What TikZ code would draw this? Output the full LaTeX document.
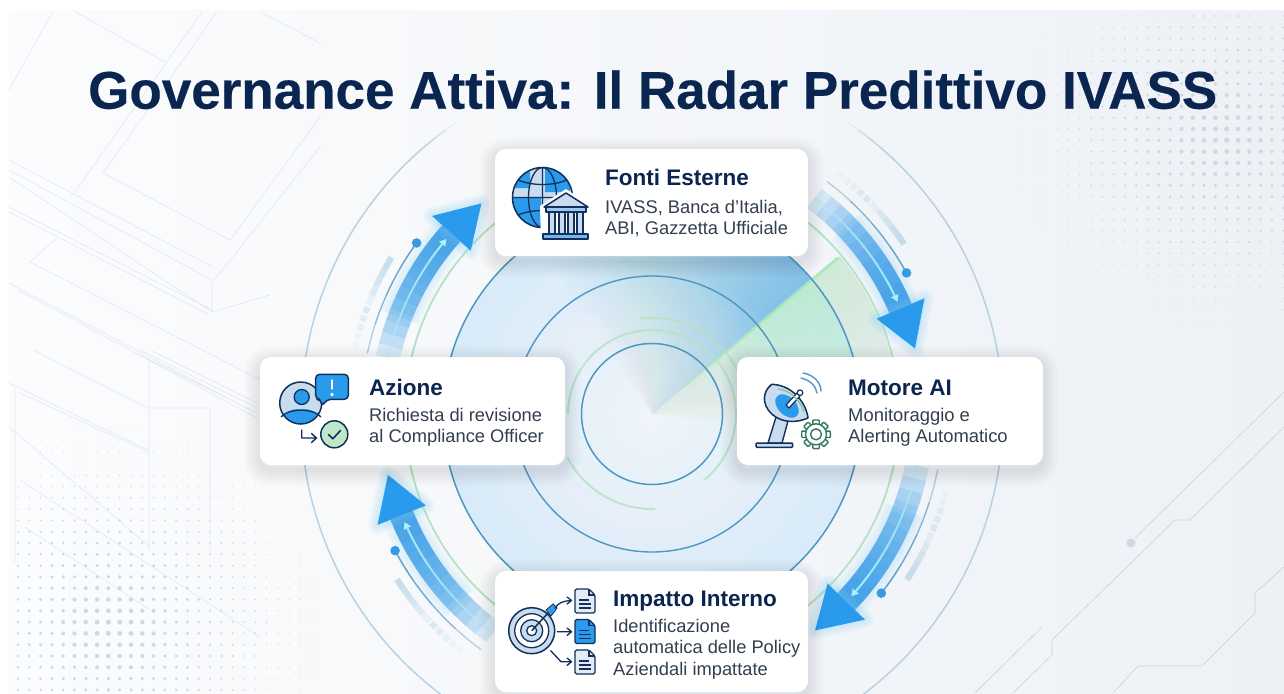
\documentclass[tikz,border=0pt]{standalone}
\usepackage{fontspec}
\setmainfont{Liberation Sans}
\newfontfamily\titlefont[FakeBold=0.35]{Liberation Sans Bold}
\definecolor{bgL}{HTML}{FBFCFD}
\definecolor{bgR}{HTML}{EDF1F6}
\definecolor{linec}{HTML}{E3E7EC}
\definecolor{dotc}{HTML}{D2D8DF}
\definecolor{navy}{HTML}{0A2550}
\definecolor{ink}{HTML}{12305A}
\definecolor{bodyc}{HTML}{333F4E}
\definecolor{bluec}{HTML}{2A9BEC}
\definecolor{palec}{HTML}{C9DCEF}
\definecolor{glowc}{HTML}{7FD0F8}
\definecolor{bandc}{HTML}{2F98E8}
\definecolor{cyanc}{HTML}{A8F2FA}
\definecolor{thinc}{HTML}{5C9CC8}
\definecolor{dashc}{HTML}{B4D2E7}
\definecolor{ringc}{HTML}{4E97C4}
\definecolor{outerc}{HTML}{B7D2E5}
\definecolor{greenr}{HTML}{B5E2C2}
\definecolor{greenw}{HTML}{AAEAB8}
\definecolor{wedgeb}{HTML}{2E9BE8}
\definecolor{gearc}{HTML}{2E7A62}
\definecolor{checkc}{HTML}{BFE8CB}
\pgfdeclareradialshading{discshade}{\pgfpointorigin}{%
  color(0bp)=(rgb,255:red,240;green,245;blue,249);
  color(15bp)=(rgb,255:red,224;green,238;blue,249);
  color(33bp)=(rgb,255:red,210;green,232;blue,248);
  color(50bp)=(rgb,255:red,184;green,220;blue,245)}
\tikzset{
  bgline/.style={draw=linec,line width=.6pt},
  cardbox/.style={draw=none,fill=white,rounded corners=11pt,inner sep=0pt},
  headtext/.style={anchor=base west,inner sep=0pt,text=navy,font=\bfseries\fontsize{22.5}{26}\selectfont},
  bodytext/.style={anchor=north west,inner sep=0pt,text=bodyc,align=left},
  icon/.style={draw=ink,line width=1.5pt,line join=round},
}
\newcommand\mkcard[5]{%
  \foreach \w in {4,8,...,32}{\draw[black,opacity=.012,line width=\w pt,rounded corners=11pt,line join=round] (#2,#3+5) rectangle (#4,#5+5);}
  \pgfmathsetmacro\cw{#4-#2}\pgfmathsetmacro\ch{#5-#3}
  \node[cardbox,minimum width=\cw pt,minimum height=\ch pt] (#1) at ({(#2+#4)/2},{(#3+#5)/2}) {};
}
\newcommand\flowarrow[3]{%
  \pgfmathsetmacro\midA{#2+(#1-#2)*0.7}
  \foreach \w in {26,30,34,38,42}{\draw[glowc,opacity=.05,line width=\w pt] (\midA:270) arc[start angle=\midA,end angle=#2,radius=270];}
  \foreach \k in {0,...,11}{\pgfmathsetmacro\sta{#2+(#1-#2)*(1-\k/12)}
    \draw[bandc,opacity=.14,line width=24pt] (\sta:270) arc[start angle=\sta,end angle=#2,radius=270];}
  \foreach \w in {3,6,...,18}{\draw[glowc,opacity=.06,line width=\w pt,line join=round] (#2:296) -- (#3:271) -- (#2:244) -- cycle;}
  \fill[bluec] (#2:296) -- (#3:271) -- (#2:244) -- cycle;
  % cyan line
  \pgfmathsetmacro\cyE{#2+3}
  \foreach \k in {0,...,5}{\pgfmathsetmacro\sta{\cyE+(#1-\cyE)*(1-\k/6)}
    \draw[cyanc,opacity=.35,line width=1.8pt] (\sta:270) arc[start angle=\sta,end angle=\cyE,radius=270];}
  \pgfmathsetmacro\cyT{#2+1.6}
  \fill[cyanc] (\cyE:274) -- (\cyT:270) -- (\cyE:266) -- cycle;
  % thin line + dot
  \pgfmathsetmacro\doA{#2+6}
  \foreach \k in {0,...,3}{\pgfmathsetmacro\sta{\doA+(#1-\doA)*(1-\k/4)}
    \draw[thinc,opacity=.45,line width=1.3pt] (\sta:291) arc[start angle=\sta,end angle=\doA,radius=291];}
  \fill[bluec!80!thinc] (\doA:291) circle[radius=4.8];
  % dashed pale band
  \pgfmathsetmacro\daE{#2+11}\pgfmathsetmacro\daM{#2+21}
  \foreach \k in {0,...,4}{\pgfmathsetmacro\sta{\daE+(\daM-\daE)*(1-\k/5)}
    \draw[dashc,opacity=.2,line width=6pt] (\sta:304) arc[start angle=\sta,end angle=\daE,radius=304];}
  \foreach \k/\o in {0/.4,1/.3,2/.22,3/.15,4/.09}{\pgfmathsetmacro\sta{\daM+.4+\k*1.7}\pgfmathsetmacro\stb{\sta+1.2}
    \draw[dashc,opacity=\o,line width=6pt] (\sta:304) arc[start angle=\sta,end angle=\stb,radius=304];}
}
\newcommand\docicon[3]{%
  \draw[icon,fill=#3,line width=1.3pt,rounded corners=1.5pt] (#1,#2) -- (#1+14,#2) -- (#1+20,#2+6) -- (#1+20,#2+24) -- (#1,#2+24) -- cycle;
  \draw[ink,line width=1.1pt] (#1+14,#2) -- (#1+14,#2+6) -- (#1+20,#2+6);
  \draw[ink,line width=1.1pt] (#1+4,#2+11) -- (#1+14,#2+11) (#1+4,#2+15) -- (#1+16,#2+15) (#1+4,#2+19) -- (#1+16,#2+19);
}
\begin{document}
\begin{tikzpicture}[x=1pt,y=-1pt]
\useasboundingbox (0,0) rectangle (1284,693);
\fill[white] (0,0) rectangle (1284,693);
\fill[left color=bgL,right color=bgR] (9,11) rectangle (1284,693);
% background lines, left
\draw[bgline] (53,11) -- (9,90) (74,11) -- (165,62) (202,12) -- (75,192) (217,12) -- (103,173) -- (230,240) -- (320,117)
  (320,147) -- (212,283) -- (212,312) (9,160) -- (213,267) (9,170) -- (212,280) (9,177) -- (212,312) (9,207) -- (212,310)
  (9,212) -- (210,315) (260,12) -- (320,43) (57,238) -- (30,262) -- (300,400) (212,312) -- (270,295)
  (149,360) -- (149,550) (150,408) -- (210,408) -- (210,550) (9,383) -- (148,450) (18,392) -- (148,452) (15,388) -- (15,563)
  (9,427) -- (150,547) (20,480) -- (260,637) (25,527) -- (150,610) (33,350) -- (148,408) (130,350) -- (257,413) (140,350) -- (257,408)
  (150,350) -- (257,403) (9,283) -- (250,410) (18,290) -- (257,418);
% background lines, right
\draw[bgline,draw=linec!90!black] (1284,392) -- (1135,538) (1284,427) -- (1190,520) -- (1175,520) -- (1052,640) -- (1052,655) -- (1013,693)
  (1042,627) -- (975,693) (1284,567) -- (1255,593) -- (1255,613) -- (1202,666) -- (1138,666) -- (1113,693);
\fill[dotc] (1131,543) circle[radius=4.5];
% dot fields
\foreach \ix in {0,...,24}{\foreach \iy in {0,...,28}{
  \pgfmathsetmacro\px{1012+11.3*\ix}\pgfmathsetmacro\py{16+11.3*\iy}
  \pgfmathsetmacro\dd{sqrt(((\px-1223)/215)^2+((\py-135)/195)^2)}
  \pgfmathtruncatemacro\keep{\dd<0.98?1:0}
  \ifnum\keep=1 \pgfmathsetmacro\rr{0.45+2.2*(1-\dd)^1.4}\fill[dotc] (\px,\py) circle[radius=\rr];\fi
}}
\foreach \ix in {0,...,26}{\foreach \iy in {0,...,23}{
  \pgfmathsetmacro\px{18+11.3*\ix}\pgfmathsetmacro\py{430+11.3*\iy}
  \pgfmathsetmacro\dd{sqrt(((\px-110)/215)^2+((\py-627)/205)^2)}
  \pgfmathtruncatemacro\keep{\dd<0.98?1:0}
  \ifnum\keep=1 \pgfmathsetmacro\rr{0.45+2.2*(1-\dd)^1.4}\fill[dotc] (\px,\py) circle[radius=\rr];\fi
}}
% radar
\begin{scope}[shift={(652,414)},y=1pt]
  \draw[outerc,line width=1.5pt] (50:351) arc[start angle=50,end angle=-230,radius=351];
  \foreach \e/\o in {52/.6,54/.4,56/.25}{\draw[outerc,opacity=\o,line width=1.5pt] (\e:351) arc[start angle=\e,end angle=50,radius=351];}
  \foreach \e/\o in {128/.6,126/.4,124/.25}{\draw[outerc,opacity=\o,line width=1.5pt] (\e:351) arc[start angle=\e,end angle=130,radius=351];}
  % green wedge
  \foreach \a in {38,35,...,-7}{\fill[greenw,opacity=.03] (0,0) -- (40:245) arc[start angle=40,end angle=\a,radius=245] -- cycle;}
  \begin{scope}
    \clip (0,0) circle[radius=209];
    \shade[shading=discshade] (0,0) circle[radius=209];
    \foreach \a in {42,44,...,125}{\fill[wedgeb,opacity=.0135] (0,0) -- (40:215) arc[start angle=40,end angle=\a,radius=215] -- cycle;}
    \foreach \a in {38,35,...,-7}{\fill[greenw,opacity=.04] (0,0) -- (40:215) arc[start angle=40,end angle=\a,radius=215] -- cycle;}
    \foreach \r in {8,16,...,150}{\fill[bgR!40!white,opacity=.055] (0,0) circle[radius=\r];}
  \end{scope}
  \foreach \k in {40,80,120,160,200}{\draw[greenw,opacity=.4,line width=2.6pt] (40:\k) -- (40:243);}
  \draw[greenr,line width=1.8pt] (0,0) circle[radius=247];
  \draw[ringc,line width=1.5pt] (0,0) circle[radius=209];
  \draw[ringc,line width=1.4pt] (0,0) circle[radius=138];
  \draw[ringc,line width=1.5pt] (0,0) circle[radius=70.5];
  \draw[greenr,opacity=.8,line width=2pt] (97:96) arc[start angle=97,end angle=25,radius=96];
  \draw[greenr,opacity=.8,line width=2pt] (180:84) arc[start angle=180,end angle=-52,radius=84];
  \draw[greenr,opacity=.8,line width=2pt] (207:95) arc[start angle=207,end angle=272,radius=95];
  \flowarrow{53}{23}{14}
  \flowarrow{-11}{-44}{-53}
  \flowarrow{234}{202}{193}
  \flowarrow{168}{138}{129}
\end{scope}
% cards
\mkcard{fonti}{495}{149}{808}{256}
\mkcard{azione}{260}{357}{565}{465}
\mkcard{motore}{737}{357}{1043}{465}
\mkcard{impatto}{495}{571}{808}{692}
% title
\node[anchor=base west,inner sep=0pt,text=navy,font=\titlefont\fontsize{53}{60}\selectfont] (title) at (88,108.7) {Governance Attiva: Il Radar Predittivo IVASS};
% texts
\node[headtext] (h1) at (605,185) {Fonti Esterne};
\node[bodytext,font=\fontsize{18.3}{20.5}\selectfont] (b1) at (605,200.5) {IVASS, Banca d'Italia,\\ABI, Gazzetta Ufficiale};
\node[headtext] (h2) at (369,395) {Azione};
\node[bodytext,font=\fontsize{18.3}{21}\selectfont] (b2) at (369,408) {Richiesta di revisione\\al Compliance Officer};
\node[headtext] (h3) at (848,395) {Motore AI};
\node[bodytext,font=\fontsize{18.4}{21.5}\selectfont] (b3) at (848,407.5) {Monitoraggio e\\Alerting Automatico};
\node[headtext] (h4) at (613,606) {Impatto Interno};
\node[bodytext,font=\fontsize{18.3}{21.5}\selectfont] (b4) at (613,619) {Identificazione\\automatica delle Policy\\Aziendali impattate};
% icon: globe + bank
\begin{scope}
  \clip (542.5,197.5) circle[radius=30.5];
  \fill[palec] (512,167) rectangle (573,228);
  \fill[bluec] (512,172) rectangle (530,188) (545,168) rectangle (570,192) (512,198) rectangle (541,228);
\end{scope}
\draw[icon] (542.5,197.5) circle[radius=30];
\draw[icon,line width=1.3pt] (542.5,197.5) ellipse[x radius=14,y radius=30] (542.5,167.5) -- (542.5,227.5) (512.5,197.5) -- (572.5,197.5);
\draw[icon,line width=1.3pt] (518,180) .. controls (532,186) and (553,186) .. (567,180) (518,215) .. controls (532,209) and (553,209) .. (567,215);
\fill[white] (566,189) -- (592,206) -- (590,241) -- (541,241) -- (540,206) -- cycle;
\draw[icon,fill=palec] (566,193) -- (588,207) -- (544,207) -- cycle;
\draw[icon,fill=palec!70!bluec] (546,207) rectangle (586,212);
\draw[icon,fill=palec,line width=1.2pt] (549,212) rectangle (555,234) (559,212) rectangle (565,234) (568,212) rectangle (574,234) (577,212) rectangle (583,234);
\draw[icon,fill=bluec!55!palec] (543,234) rectangle (588,239);
% icon: person
\begin{scope}
  \clip (300.7,403) circle[radius=21];
  \fill[palec] (279,381) rectangle (323,425);
  \fill[bluec] (282,426) .. controls (282,410) and (292,409) .. (301,409) .. controls (310,409) and (320,410) .. (320,426) -- cycle;
\end{scope}
\draw[icon] (300.7,403) circle[radius=21];
\draw[icon,fill=bluec,line width=1.3pt] (301.7,397) circle[radius=7.5];
\draw[icon,line width=1.3pt] (281,417) .. controls (288,408) and (314,408) .. (321,417);
\draw[icon,fill=bluec,rounded corners=4pt] (315.7,374.3) -- (348.3,374.3) -- (348.3,399.3) -- (327,399.3) -- (321.7,406.7) -- (321,399.3) -- (315.7,399.3) -- cycle;
\draw[white,line width=2.8pt,line cap=round] (332,380.5) -- (332,388.5);
\fill[white] (332,394.5) circle[radius=1.8];
\draw[ink,line width=1.4pt,line join=round,line cap=round] (301.7,430) -- (301.7,438) -- (316,438) (311.5,433.5) -- (316.5,438) -- (311.5,442.5);
\draw[draw=ink,fill=checkc,line width=1.5pt] (334.3,434.3) circle[radius=13.5];
\draw[ink,line width=1.6pt,line join=round,line cap=round] (328.5,434.5) -- (332.8,438.8) -- (340.5,430.5);
% icon: dish
\draw[icon,line width=1.4pt,fill=palec] (776,417) -- (768,443) -- (782,443) -- (788,421) -- cycle;
\draw[icon,fill=palec,rounded corners=1pt] (756,443) rectangle (792.7,447.3);
\draw[icon,fill=palec] (771.7,384.3) .. controls (752,400) and (775,432) .. (808,418) .. controls (806,402) and (792,385) .. (771.7,384.3) -- cycle;
\fill[bluec,rotate around={-45:(787,406)}] (787,406) ellipse[x radius=14,y radius=9];
\draw[icon,fill=white,line width=1.2pt] (786,405) -- (797,393) -- (800,396) -- (789,408) -- cycle;
\draw[icon,fill=white,line width=1.2pt] (800,392.7) circle[radius=2.8];
\draw[greenr!70!gearc,line width=1.4pt] (778,389) .. controls (790,390) and (801,401) .. (804,412);
\draw[thinc,line width=1.5pt,line cap=round] (801,378) .. controls (810,380) and (816,386) .. (817,393) (803,373) .. controls (815,375) and (821,384) .. (821,391);
\foreach \a in {0,45,...,315}{\draw[draw=gearc,fill=white,line width=1.4pt,rounded corners=.8pt,rotate around={\a:(816,434.3)}] (812.8,420) rectangle (819.2,428);}
\draw[draw=gearc,fill=white,line width=1.4pt] (816,434.3) circle[radius=10.5];
\draw[draw=gearc,fill=white,line width=1.4pt] (816,434.3) circle[radius=5.5];
% icon: target + docs
\draw[icon,fill=palec] (531.7,630.7) circle[radius=23];
\draw[icon,fill=white,line width=1.3pt] (531.7,630.7) circle[radius=17];
\draw[icon,fill=palec,line width=1.3pt] (531.7,630.7) circle[radius=11];
\draw[icon,fill=white,line width=1.3pt] (531.7,630.7) circle[radius=5];
\draw[ink,line width=1.5pt] (531.7,630.7) -- (549,612);
\fill[bluec!85!thinc,draw=ink,line width=.8pt] (546,610) -- (553,604) -- (557,608) -- (555,611) -- (551,616) -- cycle;
\draw[ink,line width=1.3pt,line join=round,line cap=round] (555,608) .. controls (558,603) and (563,601) .. (571,600.5) (567,597) -- (571.5,600.5) -- (567,604);
\draw[ink,line width=1.3pt,line join=round,line cap=round] (557.3,631.7) -- (571,631.7) (567,628) -- (571.5,631.7) -- (567,635.5);
\draw[ink,line width=1.3pt,line join=round,line cap=round] (550.7,650.7) -- (561,661.7) -- (571,661.7) (567,658) -- (571.5,661.7) -- (567,665.5);
\docicon{575}{589}{palec!55!white}
\docicon{575}{619.5}{bluec}
\docicon{575}{650}{palec!55!white}
\end{tikzpicture}
\end{document}
